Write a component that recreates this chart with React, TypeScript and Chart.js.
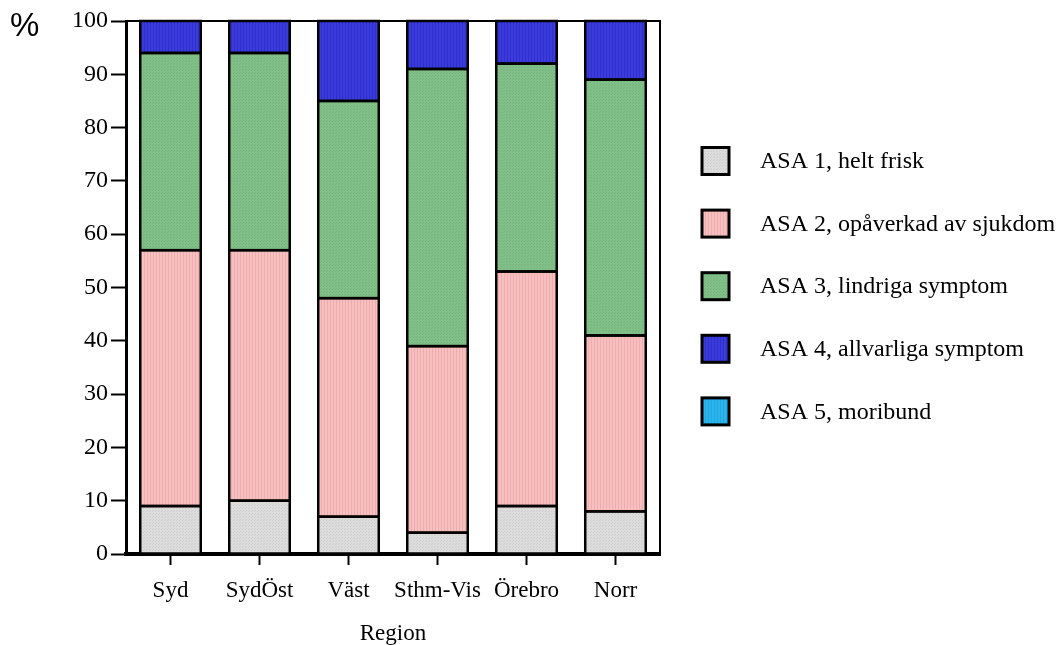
import React, { useEffect, useRef } from "react";
import { Chart, registerables } from "chart.js";

Chart.register(...registerables);

const categories = ["Syd", "SydÖst", "Väst", "Sthm-Vis", "Örebro", "Norr"];
const seriesLabels = [
  "ASA 1, helt frisk",
  "ASA 2, opåverkad av sjukdom",
  "ASA 3, lindriga symptom",
  "ASA 4, allvarliga symptom",
  "ASA 5, moribund",
];
const asa1 = [9, 10, 7, 4, 9, 8];
const asa2 = [48, 47, 41, 35, 44, 33];
const asa3 = [37, 37, 37, 52, 39, 48];
const asa4 = [6, 6, 15, 9, 8, 11];
const asa5 = [0, 0, 0, 0, 0, 0];
const seriesColors = ["#dcdcdc", "#f7c0c0", "#80c088", "#3b3bdc", "#2ab4ec"];
const stripeColors = ["#cfcfcf", "#f0adad", "#76b67e", "#3030cc", "#22a8e0"];
const yTicks = [0, 10, 20, 30, 40, 50, 60, 70, 80, 90, 100];

const SERIF = "'Liberation Serif', 'Times New Roman', serif";

function makePattern(base: string, stripe: string, dotted: boolean): any {
  const c = document.createElement("canvas");
  c.width = 3;
  c.height = 3;
  const g = c.getContext("2d")!;
  g.fillStyle = base;
  g.fillRect(0, 0, 3, 3);
  g.fillStyle = stripe;
  if (dotted) {
    g.fillRect(0, 0, 1, 1);
    g.fillRect(2, 1, 1, 1);
  } else {
    g.fillRect(0, 0, 1, 3);
  }
  const ctx = document.createElement("canvas").getContext("2d")!;
  return ctx.createPattern(c, "repeat");
}

const outlinePlugin = {
  id: "outlines",
  afterDatasetsDraw(chart: any) {
    const { ctx } = chart;
    ctx.save();
    ctx.strokeStyle = "#000";
    ctx.lineWidth = 2.5;
    chart.data.datasets.forEach((_ds: any, i: number) => {
      const meta = chart.getDatasetMeta(i);
      meta.data.forEach((bar: any) => {
        const left = bar.x - bar.width / 2;
        const top = Math.min(bar.y, bar.base);
        const h = Math.abs(bar.base - bar.y);
        if (h < 0.5) return;
        ctx.strokeRect(left, top, bar.width, h);
      });
    });
    ctx.restore();
  },
};

const decorPlugin = {
  id: "decor",
  afterDraw(chart: any) {
    const { ctx, chartArea } = chart;
    ctx.save();
    ctx.strokeStyle = "#000";
    ctx.lineWidth = 2;
    ctx.beginPath();
    ctx.moveTo(chartArea.left, chartArea.top);
    ctx.lineTo(chartArea.right, chartArea.top);
    ctx.lineTo(chartArea.right, chartArea.bottom);
    ctx.stroke();
    ctx.fillStyle = "#000";
    ctx.font = "33px 'Liberation Sans', Arial, sans-serif";
    ctx.textAlign = "left";
    ctx.textBaseline = "middle";
    ctx.fillText("%", 10, 27);
    const x0 = chartArea.right + 42;
    const size = 27;
    chart.data.datasets.forEach((ds: any, i: number) => {
      const cy = 161 + i * 62.6;
      ctx.fillStyle = ds.backgroundColor;
      ctx.fillRect(x0, cy - size / 2, size, size);
      ctx.lineWidth = 3;
      ctx.strokeStyle = "#000";
      ctx.strokeRect(x0, cy - size / 2, size, size);
      ctx.fillStyle = "#000";
      ctx.font = `24px ${SERIF}`;
      ctx.textAlign = "left";
      ctx.textBaseline = "middle";
      ctx.fillText(ds.label, x0 + 58, cy + 1);
    });
    ctx.restore();
  },
};

export default function App() {
  const ref = useRef<HTMLCanvasElement | null>(null);
  useEffect(() => {
    if (!ref.current) return;
    const series = [asa1, asa2, asa3, asa4, asa5];
    const chart = new Chart(ref.current, {
      type: "bar",
      data: {
        labels: categories,
        datasets: series.map((d, i) => ({
          label: seriesLabels[i],
          data: d,
          backgroundColor: makePattern(seriesColors[i], stripeColors[i], i === 0 || i === 2),
          borderWidth: 0,
          categoryPercentage: 1,
          barPercentage: 0.68,
        })),
      },
      options: {
        responsive: false,
        animation: false,
        devicePixelRatio: 1,
        layout: { padding: { top: 21, right: 401, left: 0, bottom: 0 } },
        plugins: { legend: { display: false }, tooltip: { enabled: false } },
        scales: {
          x: {
            stacked: true,
            grid: {
              offset: false,
              drawOnChartArea: false,
              drawTicks: true,
              tickLength: 11,
              tickWidth: 2,
              tickColor: "#000",
            },
            border: { display: true, width: 4, color: "#000" },
            ticks: {
              color: "#000",
              font: { family: SERIF, size: 23 },
              padding: 12,
              maxRotation: 0,
              autoSkip: false,
            },
            title: {
              display: true,
              text: "Region",
              color: "#000",
              font: { family: SERIF, size: 23, lineHeight: 1 },
              padding: { top: 0, bottom: 0 },
            },
            afterFit: (s: any) => {
              s.height = 91;
            },
          },
          y: {
            stacked: true,
            min: 0,
            max: 100,
            afterBuildTicks: (s: any) => {
              s.ticks = yTicks.map((v) => ({ value: v }));
            },
            grid: {
              drawOnChartArea: false,
              drawTicks: true,
              tickLength: 15,
              tickWidth: 2,
              tickColor: "#000",
            },
            border: { display: true, width: 3, color: "#000" },
            ticks: {
              color: "#000",
              font: { family: SERIF, size: 24 },
              padding: 3,
            },
            afterFit: (s: any) => {
              s.width = 126;
            },
          },
        },
      },
      plugins: [outlinePlugin, decorPlugin],
    });
    return () => chart.destroy();
  }, []);
  return (
    <div style={{ position: "fixed", left: 0, top: 0, width: 1061, height: 645, background: "#fff" }}>
      <canvas ref={ref} width={1061} height={645} />
    </div>
  );
}
